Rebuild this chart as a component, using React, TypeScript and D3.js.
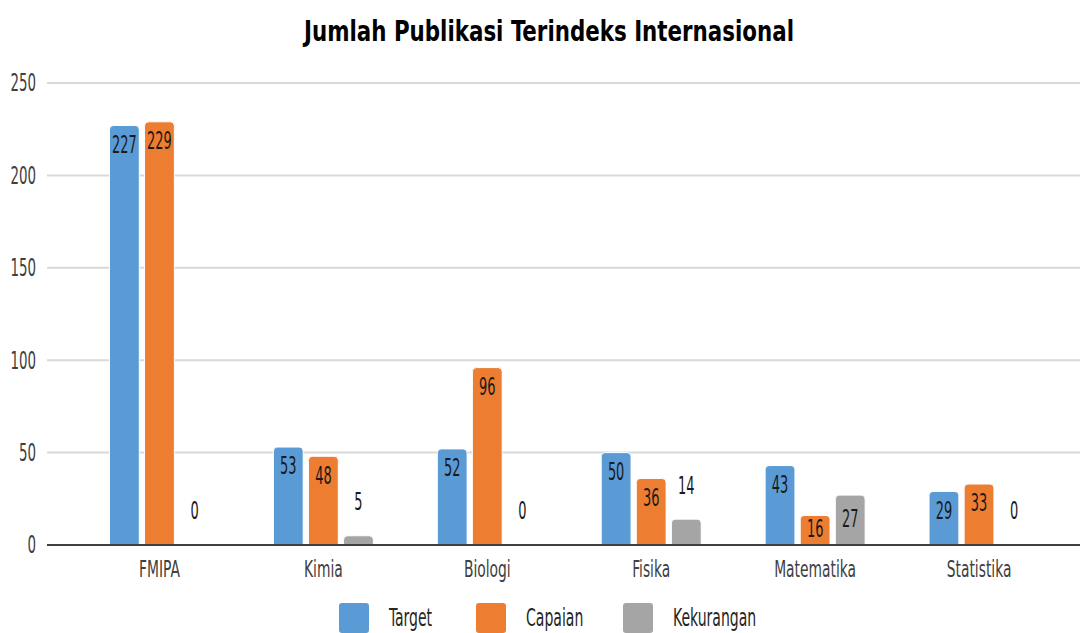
import { useEffect, useRef } from "react";
import * as d3 from "d3";

const categories = ["FMIPA", "Kimia", "Biologi", "Fisika", "Matematika", "Statistika"];
const seriesNames = ["Target", "Capaian", "Kekurangan"];
const target = [227, 53, 52, 50, 43, 29];
const capaian = [229, 48, 96, 36, 16, 33];
const kekurangan = [0, 5, 0, 14, 27, 0];
const yTicks = [0, 50, 100, 150, 200, 250];
const colors = ["#5b9bd5", "#ed7d31", "#a5a5a5"];

const FONT = "'DejaVu Sans Condensed', 'DejaVu Sans', sans-serif";

// squeeze text horizontally around an anchor x, to look like the narrow original font
const squeeze = (cx: number, k: number) => `translate(${cx},0) scale(${k},1) translate(${-cx},0)`;

export default function App() {
  const svgRef = useRef<SVGSVGElement>(null);

  useEffect(() => {
    if (!svgRef.current) return;
    const svg = d3.select(svgRef.current);
    svg.selectAll("*").remove();

    const x0 = d3.scaleBand().domain(categories).range([77.5, 1061]);
    const x1 = d3.scaleBand().domain(seriesNames).range([-50, 50]).paddingInner(0.15);
    const y = d3.scaleLinear().domain([0, 250]).range([545, 83]);

    const g = svg.append("g").style("font-family", FONT).style("font-stretch", "condensed");

    // title
    g.append("text")
      .attr("x", 549)
      .attr("y", 41)
      .attr("text-anchor", "middle")
      .attr("font-size", 29)
      .attr("font-weight", "bold")
      .attr("fill", "#000")
      .attr("textLength", 490)
      .attr("lengthAdjust", "spacingAndGlyphs")
      .text("Jumlah Publikasi Terindeks Internasional");

    // gridlines
    g.append("g")
      .selectAll("line")
      .data(yTicks.filter(t => t > 0))
      .join("line")
      .attr("x1", 47)
      .attr("x2", 1080)
      .attr("y1", d => y(d))
      .attr("y2", d => y(d))
      .attr("stroke", "#d9d9d9")
      .attr("stroke-width", 2);

    // y tick labels
    g.append("g")
      .selectAll("text")
      .data(yTicks)
      .join("text")
      .attr("x", 36)
      .attr("y", d => y(d))
      .attr("dy", "0.35em")
      .attr("text-anchor", "end")
      .attr("font-size", 24)
      .attr("fill", "#404040")
      .attr("transform", squeeze(36, 0.62))
      .text(d => d);

    const rows = categories.map((c, i) => ({
      cat: c,
      vals: [target[i], capaian[i], kekurangan[i]],
    }));

    const groups = g.append("g")
      .selectAll("g")
      .data(rows)
      .join("g")
      .attr("transform", d => `translate(${(x0(d.cat) || 0) + x0.bandwidth() / 2},0)`);

    const bw = x1.bandwidth();
    const r = 4;
    const barPath = (x: number, top: number, bottom: number) => {
      const h = bottom - top;
      if (h <= 0) return "";
      const rr = Math.min(r, h / 2);
      return `M${x},${bottom} V${top + rr} Q${x},${top} ${x + rr},${top} H${x + bw - rr} Q${x + bw},${top} ${x + bw},${top + rr} V${bottom} Z`;
    };

    groups.each(function (d) {
      const gg = d3.select(this);
      d.vals.forEach((v, si) => {
        const name = seriesNames[si];
        const bx = x1(name) || 0;
        const top = y(v);
        gg.append("path")
          .attr("d", barPath(bx, top, y(0)))
          .attr("fill", colors[si])
          .attr("stroke", "#fff")
          .attr("stroke-width", 1);
        const h = y(0) - top;
        let ly: number;
        if (si < 2) {
          ly = Math.min(top + 19, y(0) - 16);
        } else {
          ly = h > 40 ? top + 24 : top - 34;
        }
        const cx = bx + bw / 2;
        gg.append("text")
          .attr("x", cx)
          .attr("y", ly)
          .attr("dy", "0.35em")
          .attr("text-anchor", "middle")
          .attr("font-size", 24)
          .attr("fill", "#1a1a1a")
          .attr("transform", squeeze(cx, 0.6))
          .text(v);
      });
    });

    // baseline
    g.append("line")
      .attr("x1", 47)
      .attr("x2", 1080)
      .attr("y1", y(0))
      .attr("y2", y(0))
      .attr("stroke", "#404040")
      .attr("stroke-width", 2);

    // category labels
    g.append("g")
      .selectAll("text")
      .data(categories)
      .join("text")
      .attr("x", d => (x0(d) || 0) + x0.bandwidth() / 2)
      .attr("y", 569)
      .attr("dy", "0.35em")
      .attr("text-anchor", "middle")
      .attr("font-size", 23)
      .attr("fill", "#404040")
      .attr("transform", d => squeeze((x0(d) || 0) + x0.bandwidth() / 2, 0.67))
      .text(d => d);

    // legend
    const legendX = [339, 476, 623];
    const leg = g.append("g")
      .selectAll("g")
      .data(seriesNames)
      .join("g")
      .attr("transform", (_, i) => `translate(${legendX[i]},603)`);
    leg.append("rect")
      .attr("width", 30)
      .attr("height", 30)
      .attr("rx", 3)
      .attr("fill", (_, i) => colors[i]);
    leg.append("text")
      .attr("x", 50)
      .attr("y", 15)
      .attr("dy", "0.35em")
      .attr("font-size", 24)
      .attr("fill", "#262626")
      .attr("transform", squeeze(50, 0.65))
      .text(d => d);
  }, []);

  return (
    <svg
      ref={svgRef}
      width={1081}
      height={633}
      style={{ position: "absolute", left: 0, top: 0, background: "#fff" }}
    />
  );
}
